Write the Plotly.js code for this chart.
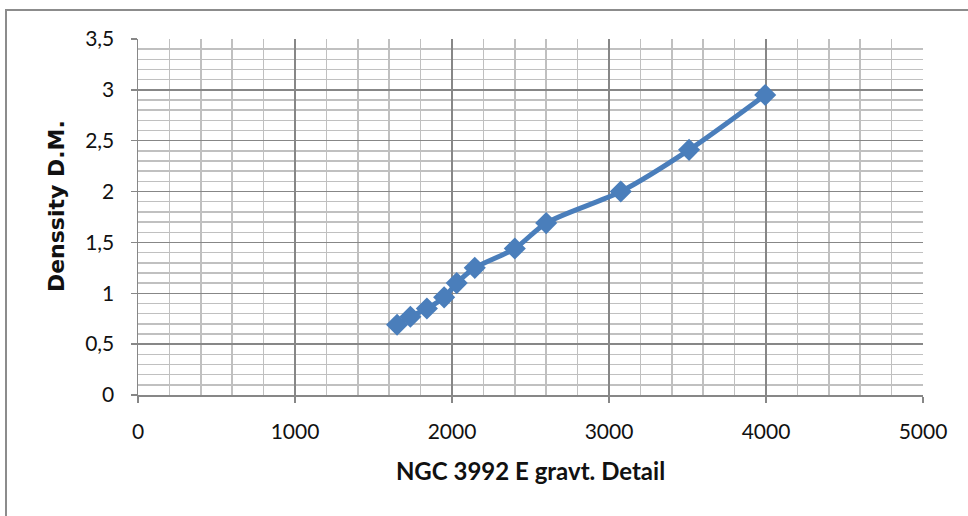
<!DOCTYPE html>
<html>
<head>
<meta charset="utf-8">
<script src="https://cdn.plot.ly/plotly-3.0.1.min.js"></script>
<style>
  html, body { margin: 0; padding: 0; background: #fff; overflow: hidden; }
  #wrap { position: relative; width: 968px; height: 516px; }
  #chart { width: 968px; height: 516px; }
  #frame {
    position: absolute; left: 5px; top: 9px; width: 1000px; height: 600px;
    border-left: 2px solid #8c8c8c; border-top: 2px solid #8c8c8c;
    pointer-events: none;
  }
</style>
</head>
<body>
<div id="wrap">
  <div id="chart"></div>
  <div id="frame"></div>
</div>
<script>
// Gravitational detail vs. density (D.M.) for NGC 3992 E
const gravtDetail = [1650, 1735, 1840, 1950, 2030, 2145, 2400, 2600, 3075, 3510, 3995];
const density     = [0.69, 0.77, 0.85, 0.96, 1.10, 1.25, 1.44, 1.69, 2.00, 2.41, 2.95];

const xTitle = 'NGC 3992 E gravt. Detail';
const yTitle = 'Denssity D.M.';

const lineBlue = '#4a7ebb';
const majorGrid = '#878787';
const minorGrid = '#c0c0c0';
const tickFont = { family: 'Lato, "Open Sans", sans-serif', size: 21, color: '#111' };

const trace = {
  x: gravtDetail,
  y: density,
  type: 'scatter',
  mode: 'lines+markers',
  line: { color: lineBlue, width: 5, shape: 'spline', smoothing: 0.8 },
  marker: { symbol: 'diamond', size: 17, color: lineBlue },
  showlegend: false,
  hoverinfo: 'x+y'
};

const layout = {
  width: 968,
  height: 516,
  margin: { l: 138, r: 45, t: 39, b: 121 },
  paper_bgcolor: '#ffffff',
  plot_bgcolor: '#ffffff',
  separators: ',.',
  xaxis: {
    range: [0, 5000],
    dtick: 1000,
    tick0: 0,
    showgrid: true,
    gridcolor: majorGrid,
    gridwidth: 1.5,
    zeroline: false,
    showline: true,
    linecolor: majorGrid,
    linewidth: 1.5,
    ticks: 'outside',
    ticklen: 6,
    tickcolor: majorGrid,
    tickwidth: 1.5,
    tickfont: tickFont,
    ticklabelstandoff: 11,
    minor: { dtick: 200, showgrid: true, gridcolor: minorGrid, gridwidth: 1.5, ticks: '' },
    title: {
      text: xTitle,
      font: { family: 'Lato, "Open Sans", sans-serif', size: 24, color: '#111', weight: 'bold' },
      standoff: 21
    }
  },
  yaxis: {
    range: [0, 3.5],
    dtick: 0.5,
    tick0: 0,
    showgrid: true,
    gridcolor: majorGrid,
    gridwidth: 1.5,
    zeroline: false,
    showline: true,
    linecolor: majorGrid,
    linewidth: 1.5,
    ticks: 'outside',
    ticklen: 6,
    tickcolor: majorGrid,
    tickwidth: 1.5,
    tickfont: tickFont,
    ticklabelstandoff: 12,
    minor: { dtick: 0.1, showgrid: true, gridcolor: minorGrid, gridwidth: 1.5, ticks: '' }
  },
  annotations: [{
    text: '<b>' + yTitle + '</b>',
    xref: 'paper', yref: 'paper',
    x: -0.103, y: 0.531,
    xanchor: 'center', yanchor: 'middle',
    textangle: -90,
    showarrow: false,
    font: { family: '"DejaVu Sans", Verdana, sans-serif', size: 22, color: '#111' }
  }]
};

Plotly.newPlot('chart', [trace], layout, { displayModeBar: false, staticPlot: true });
</script>
</body>
</html>
